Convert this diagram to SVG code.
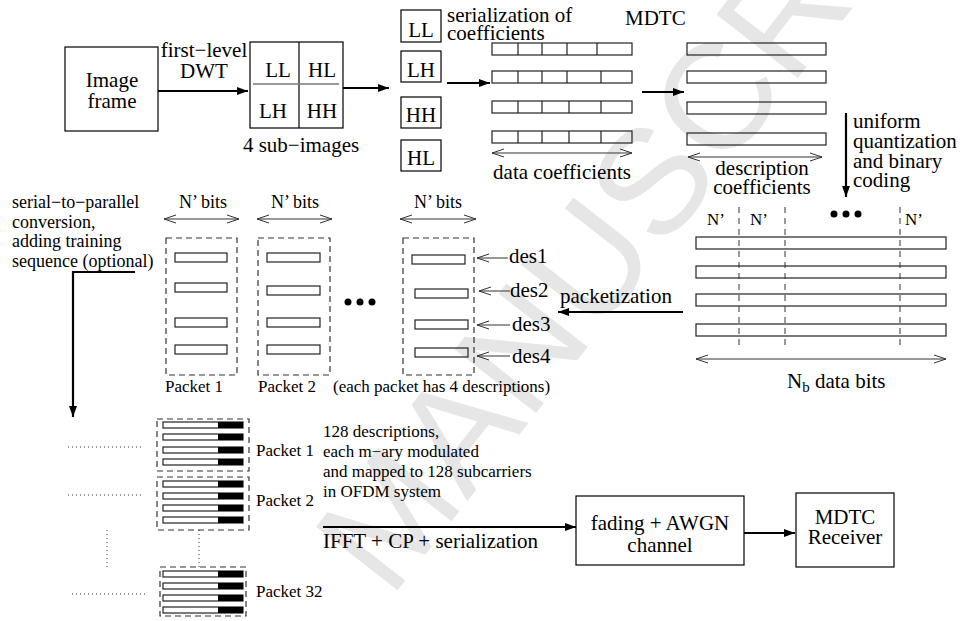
<svg xmlns="http://www.w3.org/2000/svg" width="962" height="621" viewBox="0 0 962 621" font-family="'Liberation Serif', 'Times New Roman', serif">
<style>
text{font-family:"Liberation Serif","Times New Roman",serif;fill:#000}
.t21{font-size:21px}
.t18{font-size:18px}
.t17{font-size:17px}
.m{text-anchor:middle}
.box{fill:none;stroke:#000;stroke-width:1.2}
.bar{fill:none;stroke:#222;stroke-width:1.2}
.blk{fill:#000}
.thick{stroke:#000;stroke-width:2.2;fill:none}
.thin{stroke:#333;stroke-width:1;fill:none}
.dash{fill:none;stroke:#333;stroke-width:1.2;stroke-dasharray:6 4}
.vdash{fill:none;stroke:#333;stroke-width:1;stroke-dasharray:6 5}
.dot{stroke:#333;stroke-width:1;stroke-dasharray:1 3;fill:none}
text.wm{font-family:"Liberation Sans",Arial,sans-serif;font-size:150px;fill:#e6e6e6}
</style>
<defs>
<marker id="ah" markerUnits="userSpaceOnUse" markerWidth="12" markerHeight="10" refX="11" refY="4" orient="auto"><path d="M0,0 L11,4 L0,8 z" fill="#000"/></marker>
<marker id="oa" markerUnits="userSpaceOnUse" markerWidth="14" markerHeight="10" refX="12" refY="5" orient="auto-start-reverse"><path d="M0,1 L12,5 L0,9" fill="none" stroke="#333" stroke-width="1"/></marker>
</defs>
<g id="watermark"><text class="wm" x="390" y="600" transform="rotate(-52 390 600)">MANUSCRIPT</text></g>

<g id="image-frame"><rect class="box" x="65" y="47" width="93" height="84"/><text class="t21 m" x="112" y="87">Image</text><text class="t21 m" x="112" y="108">frame</text></g>
<g id="dwt-label"><text class="t21 m" x="204" y="57">first−level</text><text class="t21 m" x="204" y="78">DWT</text></g>
<g id="sub-images"><rect class="box" x="250" y="42" width="93" height="86"/><line x1="299" y1="42" x2="299" y2="128" stroke="#000" stroke-width="1.2"/><line x1="253" y1="84" x2="339" y2="84" stroke="#777" stroke-width="1.5"/>
<text class="t21 m" x="278" y="77">LL</text><text class="t21 m" x="322" y="77">HL</text><text class="t21 m" x="273" y="118">LH</text><text class="t21 m" x="322" y="118">HH</text><text class="t21 m" x="301" y="152">4 sub−images</text></g>
<g id="subbands"><rect class="box" x="401" y="10" width="40" height="32"/><text class="t21 m" x="421" y="37">LL</text>
<rect class="box" x="401" y="51" width="40" height="31"/><text class="t21 m" x="421" y="77">LH</text>
<rect class="box" x="401" y="97" width="40" height="31"/><text class="t21 m" x="421" y="122">HH</text>
<rect class="box" x="401" y="140" width="40" height="31"/><text class="t21 m" x="421" y="165">HL</text>
<text class="t21" x="447" y="22">serialization of</text><text class="t21" x="447" y="40">coefficients</text></g>
<g id="data-coefficients">
<rect class="bar" x="492" y="43" width="140" height="12"/><rect class="bar" x="492" y="71" width="140" height="12"/><rect class="bar" x="492" y="101" width="140" height="12"/><rect class="bar" x="492" y="131" width="140" height="12"/>
<path class="bar" d="M518,43v12M542,43v12M567,43v12M597,43v12M518,71v12M542,71v12M567,71v12M601,71v12M518,101v12M542,101v12M569,101v12M601,101v12M518,131v12M542,131v12M569,131v12M601,131v12"/>
<line class="thin" x1="492" y1="153" x2="632" y2="153" marker-start="url(#oa)" marker-end="url(#oa)"/>
<text class="t21 m" x="562" y="179">data coefficients</text></g>
<g id="mdtc"><text class="t21" x="625" y="25">MDTC</text>
<rect class="bar" x="687" y="43" width="139" height="12"/><rect class="bar" x="687" y="71" width="139" height="12"/><rect class="bar" x="687" y="102" width="139" height="12"/><rect class="bar" x="687" y="133" width="139" height="12"/>
<line class="thin" x1="688" y1="157" x2="822" y2="157" marker-start="url(#oa)" marker-end="url(#oa)"/>
<text class="t21 m" x="762" y="175">description</text><text class="t21 m" x="762" y="194">coefficients</text></g>
<g id="quantization-label"><text class="t21" x="853" y="128">uniform</text><text class="t21" x="853" y="148">quantization</text><text class="t21" x="853" y="168">and binary</text><text class="t21" x="853" y="187">coding</text></g>
<g id="bit-streams">
<rect class="bar" x="696" y="237" width="250" height="12"/><rect class="bar" x="696" y="266" width="250" height="12"/><rect class="bar" x="696" y="294" width="250" height="12"/><rect class="bar" x="696" y="324" width="250" height="12"/>
<path class="vdash" d="M739,207V347M785,207V347M900,207V347"/>
<text class="t17" x="707" y="225">N’</text><text class="t17" x="750" y="225">N’</text><text class="t17" x="905" y="225">N’</text>
<circle cx="834" cy="214" r="3.5"/><circle cx="846" cy="214" r="3.5"/><circle cx="858" cy="214" r="3.5"/>
<line class="thin" x1="696" y1="359" x2="946" y2="359" marker-start="url(#oa)" marker-end="url(#oa)"/>
<text class="t21" x="787" y="388">N<tspan font-size="15" dy="4">b</tspan><tspan dy="-4"> data bits</tspan></text></g>
<g id="s2p-label"><text class="t18" x="12" y="208">serial−to−parallel</text><text class="t18" x="12" y="228">conversion,</text><text class="t18" x="12" y="247">adding training</text><text class="t18" x="12" y="267">sequence (optional)</text></g>
<g id="packets">
<text class="t18 m" x="203" y="208">N’ bits</text><line class="thin" x1="164" y1="219" x2="239" y2="219" marker-start="url(#oa)" marker-end="url(#oa)"/>
<text class="t18 m" x="295" y="208">N’ bits</text><line class="thin" x1="257" y1="219" x2="332" y2="219" marker-start="url(#oa)" marker-end="url(#oa)"/>
<text class="t18 m" x="438" y="208">N’ bits</text><line class="thin" x1="400" y1="219" x2="476" y2="219" marker-start="url(#oa)" marker-end="url(#oa)"/>
<rect class="dash" x="166" y="238" width="71" height="137"/><rect class="dash" x="258" y="238" width="72" height="137"/><rect class="dash" x="403" y="238" width="71" height="137"/>
<rect class="bar" x="175" y="253" width="52" height="9"/><rect class="bar" x="175" y="283" width="52" height="9"/><rect class="bar" x="175" y="318" width="52" height="9"/><rect class="bar" x="175" y="345" width="52" height="9"/>
<rect class="bar" x="267" y="253" width="53" height="9"/><rect class="bar" x="267" y="286" width="53" height="9"/><rect class="bar" x="267" y="318" width="53" height="9"/><rect class="bar" x="267" y="345" width="53" height="9"/>
<rect class="bar" x="412" y="255" width="53" height="9"/><rect class="bar" x="415" y="289" width="53" height="9"/><rect class="bar" x="415" y="320" width="53" height="9"/><rect class="bar" x="415" y="348" width="53" height="9"/>
<circle cx="348" cy="302" r="3.5"/><circle cx="360" cy="302" r="3.5"/><circle cx="372" cy="302" r="3.5"/>
<text class="t17" x="165" y="392">Packet 1</text><text class="t17" x="258" y="392">Packet 2</text><text class="t17" x="333" y="392">(each packet has 4 descriptions)</text>
<text class="t21" x="509" y="263">des1</text><text class="t21" x="510" y="297">des2</text><text class="t21" x="512" y="331">des3</text><text class="t21" x="512" y="363">des4</text>
<text class="t21" x="560" y="303">packetization</text></g>
<g id="ofdm-packets">
<rect class="dash" x="157" y="419" width="92" height="52"/><rect class="dash" x="157" y="477" width="92" height="53"/><rect class="dash" x="160" y="567" width="86" height="49"/>
<g class="bar">
<rect x="163" y="422" width="80" height="6"/><rect x="163" y="434" width="80" height="6"/><rect x="163" y="447" width="80" height="6"/><rect x="163" y="459" width="80" height="6"/>
<rect x="163" y="481" width="80" height="6"/><rect x="163" y="493" width="80" height="6"/><rect x="163" y="505" width="80" height="6"/><rect x="163" y="517" width="80" height="6"/>
<rect x="163" y="571" width="80" height="6"/><rect x="163" y="583" width="80" height="6"/><rect x="163" y="595" width="80" height="6"/><rect x="163" y="607" width="80" height="6"/></g>
<g class="blk">
<rect x="218" y="422" width="25" height="6"/><rect x="218" y="434" width="25" height="6"/><rect x="218" y="447" width="25" height="6"/><rect x="218" y="459" width="25" height="6"/>
<rect x="218" y="481" width="25" height="6"/><rect x="218" y="493" width="25" height="6"/><rect x="218" y="505" width="25" height="6"/><rect x="218" y="517" width="25" height="6"/>
<rect x="218" y="571" width="25" height="6"/><rect x="218" y="583" width="25" height="6"/><rect x="218" y="595" width="25" height="6"/><rect x="218" y="607" width="25" height="6"/></g>
<path class="dot" d="M68,447H143M68,495H143M72,594H147M107,530V567M199,530V567"/>
<text class="t17" x="256" y="456">Packet 1</text><text class="t17" x="256" y="506">Packet 2</text><text class="t17" x="256" y="597">Packet 32</text>
<text class="t17" x="323" y="437">128 descriptions,</text><text class="t17" x="323" y="457">each m−ary modulated</text><text class="t17" x="323" y="477">and mapped to 128 subcarriers</text><text class="t17" x="323" y="497">in OFDM system</text>
<text class="t21" x="323" y="548">IFFT + CP + serialization</text></g>
<g id="channel"><rect class="box" x="576" y="496" width="168" height="69"/><text class="t21 m" x="660" y="530">fading + AWGN</text><text class="t21 m" x="660" y="552">channel</text></g>
<g id="receiver"><rect class="box" x="796" y="493" width="98" height="74"/><text class="t21 m" x="845" y="524">MDTC</text><text class="t21 m" x="845" y="544">Receiver</text></g>
<g id="connectors">
<line class="thick" x1="158" y1="91" x2="248" y2="91" marker-end="url(#ah)"/>
<line class="thick" x1="343" y1="88" x2="389" y2="88" marker-end="url(#ah)"/>
<line class="thick" x1="447" y1="83" x2="490" y2="83" marker-end="url(#ah)"/>
<line class="thick" x1="642" y1="92" x2="684" y2="92" marker-end="url(#ah)"/>
<line class="thick" x1="846" y1="113" x2="846" y2="197" marker-end="url(#ah)"/>
<line class="thick" x1="683" y1="312" x2="558" y2="312" marker-end="url(#ah)"/>
<path class="thick" d="M135,272H73V417" marker-end="url(#ah)"/>
<line class="thin" x1="508" y1="258" x2="477" y2="258" marker-end="url(#oa)"/>
<line class="thin" x1="510" y1="291" x2="479" y2="291" marker-end="url(#oa)"/>
<line class="thin" x1="510" y1="325" x2="477" y2="325" marker-end="url(#oa)"/>
<line class="thin" x1="510" y1="356" x2="477" y2="356" marker-end="url(#oa)"/>
<line class="thick" x1="323" y1="527" x2="576" y2="527" marker-end="url(#ah)"/>
<line class="thick" x1="744" y1="533" x2="795" y2="533" marker-end="url(#ah)"/>
</g>
</svg>
